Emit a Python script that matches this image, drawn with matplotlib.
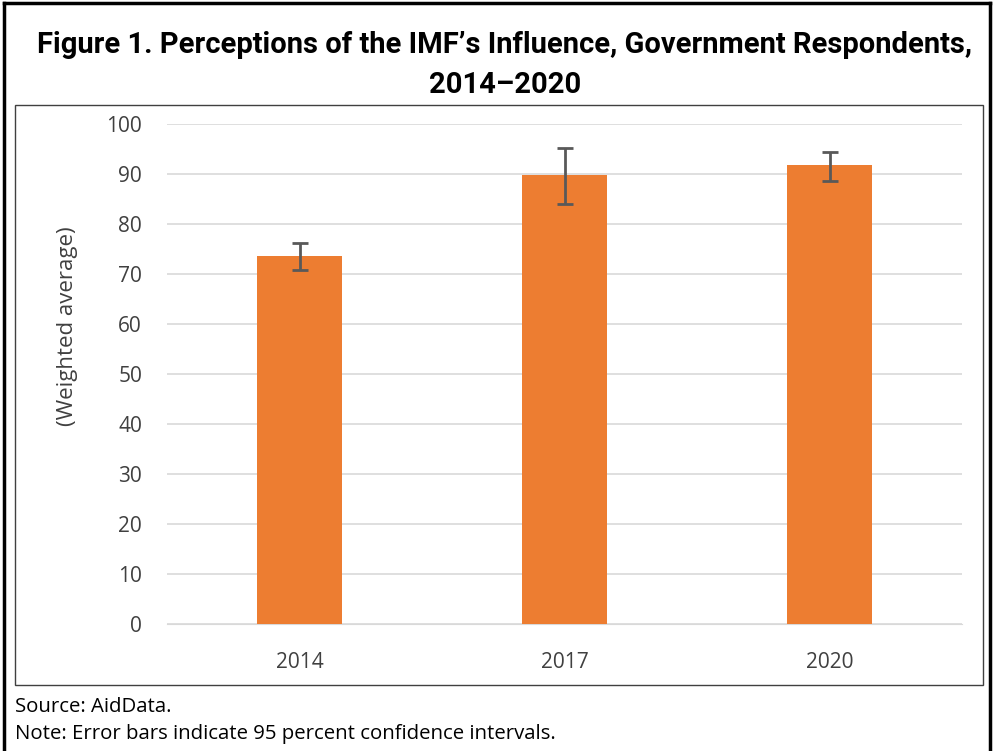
import matplotlib.pyplot as plt
from matplotlib.patches import Rectangle
from matplotlib.lines import Line2D

# Daten
years = ["2014", "2017", "2020"]
averages = [73.6, 89.8, 91.7]
ci_low = [70.8, 84.0, 88.5]
ci_high = [76.2, 95.2, 94.3]

err_lo = [a - l for a, l in zip(averages, ci_low)]
err_hi = [h - a for a, h in zip(averages, ci_high)]

W, H = 994, 751
fig = plt.figure(figsize=(W / 100, H / 100), dpi=100)
plt.rcParams["font.family"] = ["Open Sans", "DejaVu Sans"]

# outer frame (left, top, right)
fig.add_artist(Line2D([4 / W, 4 / W], [0, 1 - 3 / H], transform=fig.transFigure, color="black", lw=2.5))
fig.add_artist(Line2D([4 / W, 990 / W], [1 - 3 / H, 1 - 3 / H], transform=fig.transFigure, color="black", lw=2.5))
fig.add_artist(Line2D([990 / W, 990 / W], [0, 1 - 3 / H], transform=fig.transFigure, color="black", lw=2.5))

# inner chart box
fig.add_artist(Rectangle((15 / W, 1 - 685 / H), (983 - 15) / W, (685 - 105) / H,
                         transform=fig.transFigure, fill=False, edgecolor="#404040", lw=1.0))

# title
fig.text(0.508, 1 - 45 / H, "Figure 1. Perceptions of the IMF\u2019s Influence, Government Respondents,",
         ha="center", va="center", fontsize=21, fontweight="bold", family=["Roboto", "DejaVu Sans"])
fig.text(0.508, 1 - 85 / H, "2014\u20132020", ha="center", va="center", fontsize=21,
         fontweight="bold", family=["Roboto", "DejaVu Sans"])

# axes: plot area x 167..962, y 124..624
ax = fig.add_axes([167 / W, 1 - 624 / H, (962 - 167) / W, 500 / H])
x = range(len(years))
ax.bar(x, averages, width=0.32, color="#ED7D31", zorder=3)
ax.errorbar(x, averages, yerr=[err_lo, err_hi], fmt="none", ecolor="#595959",
            elinewidth=2, capsize=6, capthick=2, zorder=4)

ax.set_xlim(-0.5, 2.5)
ax.set_ylim(0, 100)
ax.set_yticks(range(0, 101, 10))
ax.set_xticks(list(x))
ax.set_xticklabels(years)
ax.grid(axis="y", color="#D9D9D9", lw=1.2, zorder=0)
ax.tick_params(length=0, labelsize=15, colors="#404040")
ax.tick_params(axis="y", pad=18)
ax.tick_params(axis="x", pad=20)
for s in ax.spines.values():
    s.set_visible(False)
ax.spines["bottom"].set_visible(True)
ax.spines["bottom"].set_color("#D9D9D9")

fig.text(68 / W, 1 - 326 / H, "(Weighted average)", rotation=90, ha="center", va="center",
         fontsize=16, color="#404040")

fig.text(15 / W, 1 - 707 / H, "Source: AidData.", ha="left", va="center", fontsize=14.7)
fig.text(15 / W, 1 - 734 / H, "Note: Error bars indicate 95 percent confidence intervals.",
         ha="left", va="center", fontsize=14.7)

fig.savefig("out.png", dpi=100)
